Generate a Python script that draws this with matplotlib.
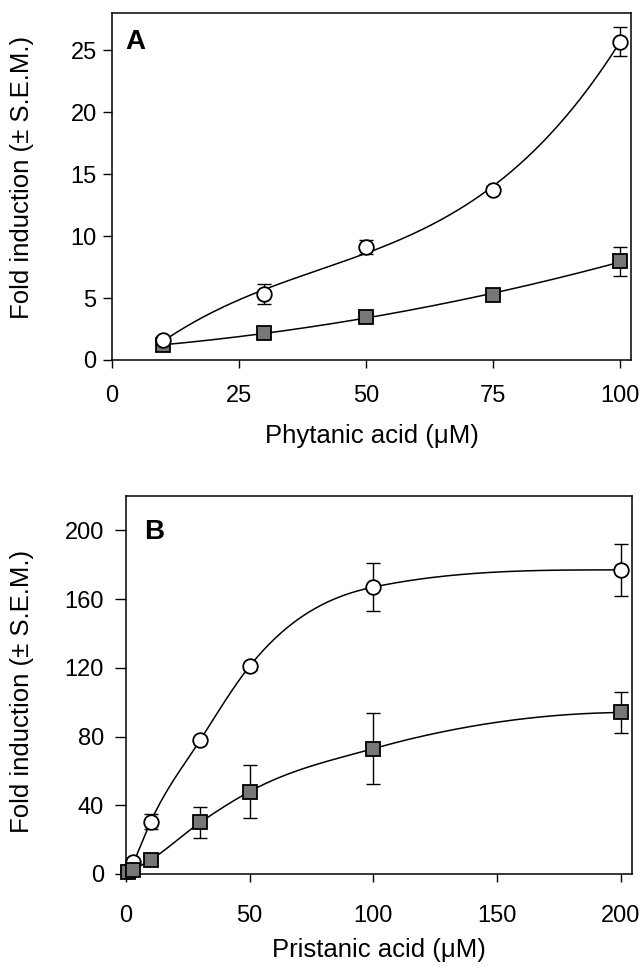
import numpy as np
import matplotlib
matplotlib.use("Agg")
import matplotlib.pyplot as plt

plt.rcParams['font.family'] = ['Liberation Sans', 'DejaVu Sans']

# ---- Panel A data (phytanic acid) ----
a_x = [10, 30, 50, 75, 100]
a_circ = [1.6, 5.3, 9.1, 13.75, 25.7]
a_circ_err = [0.3, 0.8, 0.55, 0.3, 1.2]
a_sq = [1.2, 2.15, 3.5, 5.25, 7.95]
a_sq_err = [0.2, 0.2, 0.2, 0.25, 1.2]
a_xticks = [0, 25, 50, 75, 100]
a_yticks = [0, 5, 10, 15, 20, 25]

# ---- Panel B data (pristanic acid) ----
b_x = [1, 3, 10, 30, 50, 100, 200]
b_circ = [1.5, 7.0, 30.5, 78.0, 121.0, 167.0, 177.0]
b_circ_err = [0.5, 1.0, 4.5, 2.0, 2.0, 14.0, 15.0]
b_sq = [1.0, 2.5, 8.3, 30.0, 48.0, 73.0, 94.0]
b_sq_err = [0.3, 0.5, 1.0, 9.2, 15.6, 20.6, 11.8]
b_xticks = [0, 50, 100, 150, 200]
b_yticks = [0, 40, 80, 120, 160, 200]
curve_anchor = (0.0, 0.0)


def smooth_curve(x, y, xs):
    """Hermite curve with Bessel slopes and Fritsch-Carlson limiting."""
    x = np.asarray(x, float); y = np.asarray(y, float)
    h = np.diff(x); d = np.diff(y) / h
    n = len(x); m = np.zeros(n)
    for k in range(1, n - 1):
        m[k] = (h[k] * d[k - 1] + h[k - 1] * d[k]) / (h[k - 1] + h[k])
    m[0] = ((2 * h[0] + h[1]) * d[0] - h[0] * d[1]) / (h[0] + h[1])
    m[-1] = ((2 * h[-1] + h[-2]) * d[-1] - h[-1] * d[-2]) / (h[-1] + h[-2])
    if np.sign(m[0]) != np.sign(d[0]):
        m[0] = 0
    if np.sign(m[-1]) != np.sign(d[-1]):
        m[-1] = 0
    for k in range(n - 1):
        if d[k] == 0:
            m[k] = m[k + 1] = 0
            continue
        a = m[k] / d[k]; b = m[k + 1] / d[k]
        r = a * a + b * b
        if r > 9:
            t = 3 / np.sqrt(r)
            m[k] = t * a * d[k]; m[k + 1] = t * b * d[k]
    xs = np.asarray(xs, float)
    idx = np.clip(np.searchsorted(x, xs) - 1, 0, n - 2)
    t = (xs - x[idx]) / h[idx]
    h00 = 2 * t**3 - 3 * t**2 + 1; h10 = t**3 - 2 * t**2 + t
    h01 = -2 * t**3 + 3 * t**2; h11 = t**3 - t**2
    return h00 * y[idx] + h10 * h[idx] * m[idx] + h01 * y[idx + 1] + h11 * h[idx] * m[idx + 1]


fig = plt.figure(figsize=(6.42, 9.68), dpi=100)
axA = fig.add_axes([112 / 642, 1 - 360 / 968, (631 - 112) / 642, (360 - 13) / 968])
axB = fig.add_axes([126 / 642, 1 - 874 / 968, (632 - 126) / 642, (874 - 496) / 968])

sq_face = '#777777'
lw = 1.1
TICK_FS = 17
LAB_FS = 18.5


def style(ax, ylen, ypad, xpad):
    for s in ax.spines.values():
        s.set_linewidth(1.1)
        s.set_color('black')
    ax.tick_params(direction='out', width=1.0, labelsize=TICK_FS, colors='black')
    ax.tick_params(axis='x', length=6, pad=xpad)
    ax.tick_params(axis='y', length=ylen, pad=ypad)


def draw_points(ax, x, y, err, marker, face, z):
    ax.errorbar(x, y, yerr=err, fmt='none', ecolor='black', elinewidth=1.0,
                capsize=5, capthick=1.0, zorder=z)
    ax.plot(x, y, linestyle='none', marker=marker, markersize=10.5,
            markerfacecolor=face, markeredgecolor='black', markeredgewidth=1.3,
            zorder=z + 1, clip_on=False)

# Panel A
xsA = np.linspace(a_x[0], a_x[-1], 300)
pc = np.polyfit(a_x, a_circ, 3)
ps = np.polyfit(a_x, a_sq, 2)
axA.plot(xsA, np.polyval(pc, xsA), color='black', lw=lw, zorder=2)
axA.plot(xsA, np.polyval(ps, xsA), color='black', lw=lw, zorder=2)
draw_points(axA, a_x, a_sq, a_sq_err, 's', sq_face, 3)
draw_points(axA, a_x, a_circ, a_circ_err, 'o', 'white', 5)
axA.set_xlim(0, 102.2)
axA.set_ylim(0, 28)
axA.set_xticks(a_xticks)
axA.set_yticks(a_yticks)
axA.set_xlabel('Phytanic acid (μM)', fontsize=LAB_FS, labelpad=12)
axA.set_ylabel('Fold induction (± S.E.M.)', fontsize=LAB_FS)
axA.yaxis.set_label_coords(-0.150, 0.527)
axA.text(0.025, 0.915, 'A', transform=axA.transAxes, fontsize=20,
         fontweight='bold', ha='left', va='center')
style(axA, 6.5, 4.5, 12)

# Panel B
xsB = np.linspace(0, b_x[-1], 500)
bx_c = [curve_anchor[0]] + b_x
axB.plot(xsB, smooth_curve(bx_c, [curve_anchor[1]] + b_circ, xsB), color='black', lw=lw, zorder=2)
axB.plot(xsB, smooth_curve(bx_c, [curve_anchor[1]] + b_sq, xsB), color='black', lw=lw, zorder=2)
draw_points(axB, b_x, b_circ, b_circ_err, 'o', 'white', 3)
draw_points(axB, b_x, b_sq, b_sq_err, 's', sq_face, 5)
axB.set_xlim(0, 204.5)
axB.set_ylim(0, 220)
axB.set_xticks(b_xticks)
axB.set_yticks(b_yticks)
axB.set_xlabel('Pristanic acid (μM)', fontsize=LAB_FS, labelpad=8)
axB.set_ylabel('Fold induction (± S.E.M.)', fontsize=LAB_FS)
axB.yaxis.set_label_coords(-0.182, 0.482)
axB.text(0.035, 0.905, 'B', transform=axB.transAxes, fontsize=20,
         fontweight='bold', ha='left', va='center')
style(axB, 8, 8, 16)

fig.savefig('out.png', dpi=100)
